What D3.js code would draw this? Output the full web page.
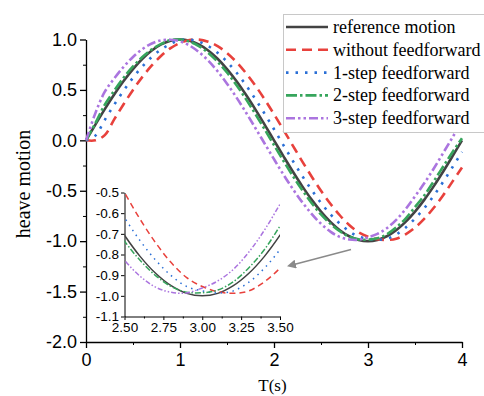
<!DOCTYPE html>
<html>
<head>
<meta charset="utf-8">
<title>heave motion</title>
<script src="https://d3js.org/d3.v7.min.js"></script>
<style>
  body { margin: 0; background: #fff; }
  svg { display: block; font-family: "Liberation Serif", "Times New Roman", serif; }
  .axis path, .axis line { stroke: #000; }
  .axis text { fill: #000; }
</style>
</head>
<body>
<svg width="484" height="396"></svg>
<script>
  // sample times (s)
  const times = [0, 0.1, 0.2, 0.3, 0.4, 0.5, 0.6, 0.7, 0.8, 0.9,
    1.0, 1.1, 1.2, 1.3, 1.4, 1.5, 1.6, 1.7, 1.8, 1.9,
    2.0, 2.1, 2.2, 2.3, 2.4, 2.5, 2.6, 2.7, 2.8, 2.9,
    3.0, 3.1, 3.2, 3.3, 3.4, 3.5, 3.6, 3.7, 3.8, 3.9, 4.0];

  const reference = [0, 0.156, 0.309, 0.454, 0.588, 0.707, 0.809, 0.891, 0.951, 0.988,
    1.0, 0.988, 0.951, 0.891, 0.809, 0.707, 0.588, 0.454, 0.309, 0.156,
    0, -0.156, -0.309, -0.454, -0.588, -0.707, -0.809, -0.891, -0.951, -0.988,
    -1.0, -0.988, -0.951, -0.891, -0.809, -0.707, -0.588, -0.454, -0.309, -0.156, 0];

  const withoutFF = [0, 0, 0.052, 0.208, 0.358, 0.5, 0.629, 0.743, 0.839, 0.914,
    0.966, 0.995, 0.999, 0.978, 0.934, 0.866, 0.777, 0.669, 0.545, 0.407,
    0.259, 0.105, -0.052, -0.208, -0.358, -0.5, -0.629, -0.743, -0.839, -0.912,
    -0.955, -0.98, -0.988, -0.976, -0.932, -0.866, -0.777, -0.669, -0.545, -0.407, -0.27];

  const step1 = [0, 0.047, 0.203, 0.353, 0.492, 0.621, 0.733, 0.827, 0.902, 0.957,
    0.994, 0.999, 0.979, 0.935, 0.868, 0.78, 0.673, 0.549, 0.411, 0.264,
    0.11, -0.047, -0.203, -0.353, -0.492, -0.621, -0.733, -0.827, -0.902, -0.955,
    -0.976, -0.986, -0.976, -0.934, -0.866, -0.776, -0.671, -0.549, -0.411, -0.264, -0.115];

  const step2 = [0, 0.17, 0.353, 0.492, 0.621, 0.733, 0.827, 0.902, 0.957, 0.994,
    0.999, 0.979, 0.935, 0.868, 0.78, 0.673, 0.549, 0.411, 0.264, 0.11,
    -0.047, -0.203, -0.353, -0.492, -0.621, -0.735, -0.828, -0.902, -0.955, -0.982,
    -0.985, -0.972, -0.932, -0.864, -0.776, -0.662, -0.545, -0.405, -0.26, -0.115, 0.02];

  const step3 = [0, 0.27, 0.482, 0.613, 0.729, 0.827, 0.905, 0.96, 0.992, 0.998,
    0.982, 0.941, 0.876, 0.79, 0.685, 0.562, 0.426, 0.279, 0.125, -0.031,
    -0.187, -0.339, -0.482, -0.613, -0.729, -0.828, -0.905, -0.958, -0.983, -0.986,
    -0.962, -0.928, -0.872, -0.788, -0.682, -0.556, -0.424, -0.279, -0.125, 0.031, 0.187];

  const seriesNames = ["reference motion", "without feedforward", "1-step feedforward",
    "2-step feedforward", "3-step feedforward"];
  const seriesValues = [reference, withoutFF, step1, step2, step3];

  const xTicks = [0, 1, 2, 3, 4];
  const xMinor = [0.5, 1.5, 2.5, 3.5];
  const yTicks = [-2.0, -1.5, -1.0, -0.5, 0.0, 0.5, 1.0];
  const yMinor = [-1.75, -1.25, -0.75, -0.25, 0.25, 0.75];
  const insetXTicks = [2.5, 2.75, 3.0, 3.25, 3.5];
  const insetXMinor = [2.625, 2.875, 3.125, 3.375];
  const insetYTicks = [-1.1, -1.0, -0.9, -0.8, -0.7, -0.6, -0.5];

  // line looks
  const colors = ["#434343", "#e8413c", "#2a6fd6", "#36a55c", "#ab75df"];
  const dashes = [null, "10,6", "2.5,7", "11,3,2.5,3", "9,3,2.5,3,2.5,3"];
  const insetDashes = [null, "6,4", "1.5,4.5", "6,2,1.5,2", "5,2,1.5,2,1.5,2"];

  const svg = d3.select("svg");

  const x = d3.scaleLinear().domain([0, 4]).range([86, 462]);
  const y = d3.scaleLinear().domain([-2, 1]).range([342, 39.5]);

  const pts = vals => times.map((t, i) => [t, vals[i]]);

  // main axes
  svg.append("g").attr("class", "axis")
    .attr("transform", `translate(0,${y(-2)})`)
    .call(d3.axisBottom(x).tickValues(xMinor).tickSize(3).tickSizeOuter(0).tickFormat(""))
    .call(g => g.select(".domain").remove());
  svg.append("g").attr("class", "axis")
    .attr("transform", `translate(0,${y(-2)})`)
    .call(d3.axisBottom(x).tickValues(xTicks).tickSize(6).tickSizeOuter(0).tickPadding(5)
      .tickFormat(d => d))
    .call(g => g.selectAll("text").attr("font-size", 18))
    .call(g => g.selectAll("path, line").attr("stroke-width", 1.3));

  svg.append("g").attr("class", "axis")
    .attr("transform", `translate(${x(0)},0)`)
    .call(d3.axisLeft(y).tickValues(yMinor).tickSize(3).tickSizeOuter(0).tickFormat(""))
    .call(g => g.select(".domain").remove());
  svg.append("g").attr("class", "axis")
    .attr("transform", `translate(${x(0)},0)`)
    .call(d3.axisLeft(y).tickValues(yTicks).tickSize(6).tickSizeOuter(0).tickPadding(3)
      .tickFormat(d => d.toFixed(1)))
    .call(g => g.selectAll("text").attr("font-size", 18))
    .call(g => g.selectAll("path, line").attr("stroke-width", 1.3));

  svg.append("text")
    .attr("transform", "translate(30,184) rotate(-90)")
    .attr("text-anchor", "middle")
    .attr("font-size", 20)
    .text("heave motion");

  svg.append("text")
    .attr("x", 272.5)
    .attr("y", 391)
    .attr("text-anchor", "middle")
    .attr("font-size", 17)
    .text("T(s)");

  // main curves
  const line = d3.line().x(d => x(d[0])).y(d => y(d[1])).curve(d3.curveCatmullRom);
  svg.append("g").selectAll("path")
    .data(seriesValues)
    .join("path")
    .attr("d", v => line(pts(v)))
    .attr("fill", "none")
    .attr("stroke", (v, i) => colors[i])
    .attr("stroke-width", 2.6)
    .attr("stroke-dasharray", (v, i) => dashes[i]);

  // inset
  const ix = d3.scaleLinear().domain([2.5, 3.5]).range([124.5, 280]);
  const iy = d3.scaleLinear().domain([-1.1, -0.5]).range([316.5, 192.5]);

  svg.append("defs").append("clipPath").attr("id", "insetClip")
    .append("rect")
    .attr("x", ix(2.5)).attr("y", iy(-0.5) - 2)
    .attr("width", ix(3.5) - ix(2.5)).attr("height", iy(-1.1) - iy(-0.5) + 2);

  svg.append("g").attr("class", "axis")
    .attr("transform", `translate(0,${iy(-1.1)})`)
    .call(d3.axisBottom(ix).tickValues(insetXMinor).tickSize(2).tickSizeOuter(0).tickFormat(""))
    .call(g => g.select(".domain").remove());
  svg.append("g").attr("class", "axis")
    .attr("transform", `translate(0,${iy(-1.1)})`)
    .call(d3.axisBottom(ix).tickValues(insetXTicks).tickSize(3.5).tickSizeOuter(0).tickPadding(2)
      .tickFormat(d => d.toFixed(2)))
    .call(g => g.selectAll("text").attr("font-size", 13.5));
  svg.append("g").attr("class", "axis")
    .attr("transform", `translate(${ix(2.5)},0)`)
    .call(d3.axisLeft(iy).tickValues(insetYTicks).tickSize(3.5).tickSizeOuter(0).tickPadding(2)
      .tickFormat(d => d.toFixed(1)))
    .call(g => g.selectAll("text").attr("font-size", 13.5));

  const iline = d3.line().x(d => ix(d[0])).y(d => iy(d[1])).curve(d3.curveCatmullRom);
  svg.append("g").attr("clip-path", "url(#insetClip)")
    .selectAll("path")
    .data(seriesValues)
    .join("path")
    .attr("d", v => iline(pts(v).filter(d => d[0] >= 2.3 && d[0] <= 3.7)))
    .attr("fill", "none")
    .attr("stroke", (v, i) => colors[i])
    .attr("stroke-width", 1.5)
    .attr("stroke-dasharray", (v, i) => insetDashes[i]);

  // pointer from the trough to the inset
  svg.select("defs").append("marker")
    .attr("id", "head").attr("viewBox", "0 0 10 10")
    .attr("refX", 2).attr("refY", 5)
    .attr("markerWidth", 6).attr("markerHeight", 6)
    .attr("orient", "auto-start-reverse")
    .append("path").attr("d", "M0,0L10,5L0,10z").attr("fill", "#8a8a8a");
  svg.append("line")
    .attr("x1", 351).attr("y1", 249.5)
    .attr("x2", 294).attr("y2", 264.5)
    .attr("stroke", "#8a8a8a").attr("stroke-width", 1.5)
    .attr("marker-end", "url(#head)");

  // legend
  const legend = svg.append("g");
  legend.append("rect")
    .attr("x", 283.5).attr("y", 14.5)
    .attr("width", 215).attr("height", 118)
    .attr("fill", "#fff").attr("stroke", "#c8c8c8");
  const rows = legend.selectAll("g")
    .data(seriesNames)
    .join("g")
    .attr("transform", (d, i) => `translate(0,${27 + i * 22.8})`);
  rows.append("line")
    .attr("x1", 286).attr("x2", 328)
    .attr("stroke", (d, i) => colors[i])
    .attr("stroke-width", 2.6)
    .attr("stroke-dasharray", (d, i) => dashes[i]);
  rows.append("text")
    .attr("x", 333).attr("dy", "0.33em")
    .attr("font-size", 18)
    .text(d => d);
</script>
</body>
</html>
